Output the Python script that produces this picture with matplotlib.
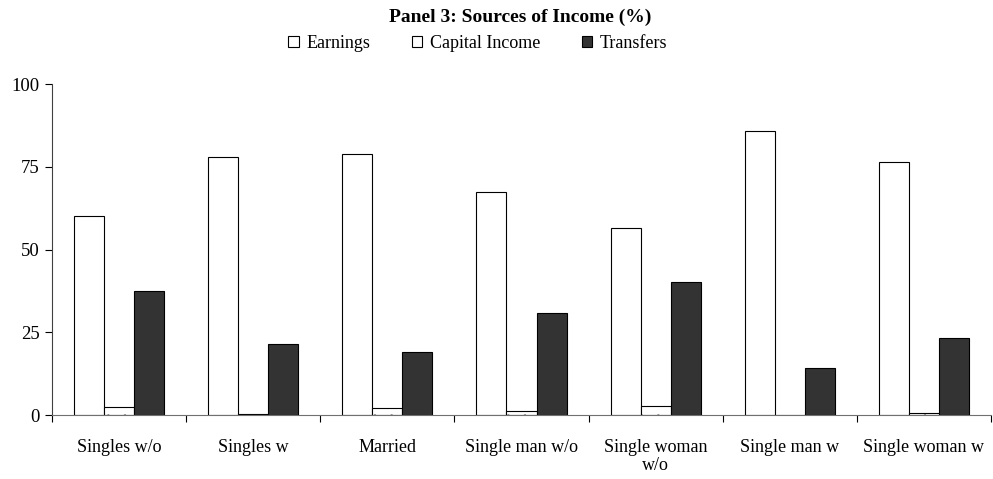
import matplotlib
matplotlib.use("Agg")
import matplotlib.pyplot as plt
import numpy as np

plt.rcParams['font.family'] = ['Liberation Serif', 'DejaVu Serif']

categories = ["Singles w/o", "Singles w", "Married", "Single man w/o",
              "Single woman\nw/o", "Single man w", "Single woman w"]
earnings = [60.0, 78.0, 79.0, 67.5, 56.5, 85.7, 76.4]
capital_income = [2.4, 0.3, 2.0, 1.3, 2.8, 0.0, 0.5]
transfers = [37.5, 21.5, 19.0, 30.8, 40.2, 14.2, 23.3]

series = [
    ("Earnings", earnings, "white", None),
    ("Capital Income", capital_income, "white", "."),
    ("Transfers", transfers, "#333333", None),
]

fig = plt.figure(figsize=(9.93, 4.79), dpi=100)
ax = fig.add_axes([0.0524, 0.1336, 0.9456, 0.691])

x = np.arange(len(categories))
width = 0.224
plt.rcParams['hatch.linewidth'] = 0.6
for i, (name, vals, color, hatch) in enumerate(series):
    ax.bar(x + (i - 1) * width, vals, width, color=color, edgecolor="black",
           linewidth=0.8, hatch=hatch, label=name)

ax.set_xlim(-0.5, len(categories) - 0.5)
ax.set_ylim(0, 100)
ax.set_yticks([0, 25, 50, 75, 100])
ax.tick_params(axis="y", labelsize=13.5, length=5, width=0.8, direction="out", pad=4)

# category boundaries get tick marks, labels sit at the centres
ax.set_xticks(np.arange(len(categories) + 1) - 0.5)
ax.set_xticklabels([])
ax.set_xticks(x, minor=True)
ax.set_xticklabels(categories, minor=True, fontsize=13, linespacing=1.1)
ax.tick_params(axis="x", which="major", length=5, width=0.8, direction="out")
ax.tick_params(axis="x", which="minor", length=0, pad=17)

for s in ["top", "right"]:
    ax.spines[s].set_visible(False)
ax.spines["left"].set_color("#404040")
ax.spines["bottom"].set_color("#707070")
ax.spines["left"].set_linewidth(0.8)
ax.spines["bottom"].set_linewidth(0.8)

fig.text(0.524, 0.964, "Panel 3: Sources of Income (%)", ha="center", va="center",
         fontsize=14, fontweight="bold")
fig.legend(loc="center", bbox_to_anchor=(0.481, 0.91), ncol=3, frameon=False,
           fontsize=13, handlelength=0.6, handleheight=0.6, handletextpad=0.4,
           columnspacing=2.3, borderpad=0)

fig.savefig("out.png", dpi=100)
